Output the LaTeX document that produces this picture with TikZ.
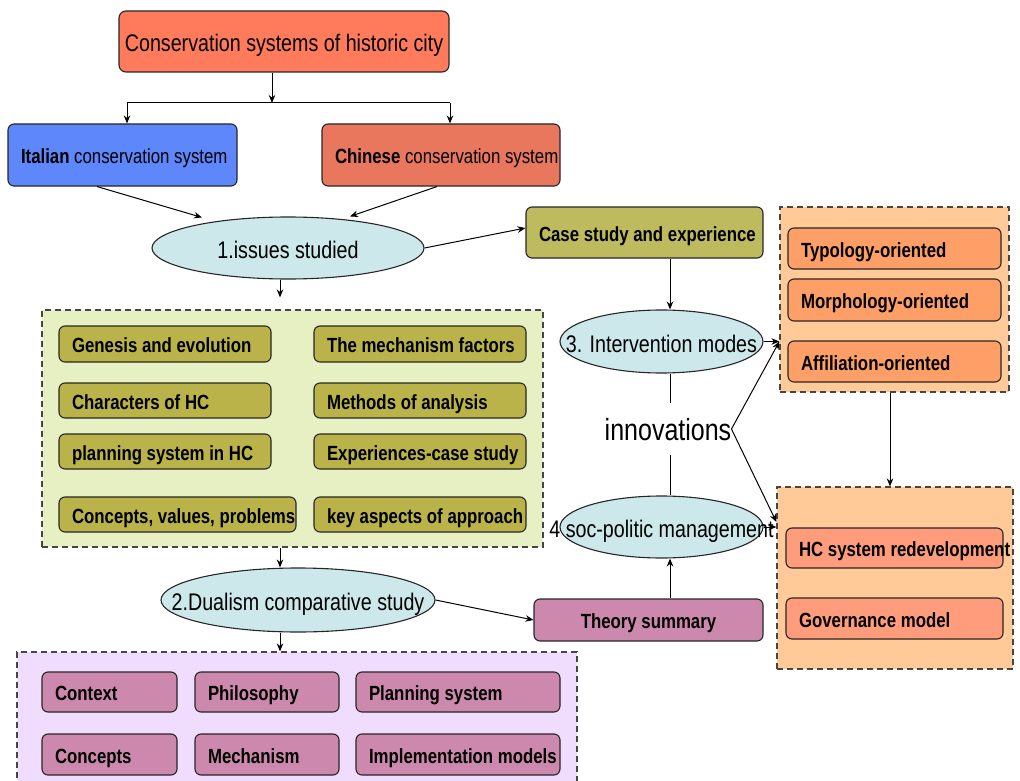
\documentclass[tikz,border=0pt]{standalone}
\usepackage{fontspec}
\setmainfont{Liberation Sans}[FakeStretch=0.82]
\usetikzlibrary{shapes.geometric,arrows.meta,calc}

\definecolor{topc}{HTML}{FF7B5B}
\definecolor{itc}{HTML}{5D87FA}
\definecolor{chc}{HTML}{E8775E}
\definecolor{elc}{HTML}{CDE8EB}
\definecolor{olc}{HTML}{BEBA5E}
\definecolor{oli}{HTML}{B9B34A}
\definecolor{grc}{HTML}{E7F0C2}
\definecolor{orc}{HTML}{FFC998}
\definecolor{ori}{HTML}{FF9F68}
\definecolor{oritwo}{HTML}{FF9C7C}
\definecolor{puc}{HTML}{F0DCFC}
\definecolor{pui}{HTML}{CC89AD}
\definecolor{edgec}{HTML}{262626}
\definecolor{dashc}{HTML}{454545}

\newcommand\lft[2]{\makebox[#1pt][l]{#2}}
\newcommand\ctr[1]{\makebox[0pt]{#1}}
\newcommand\fa{\fontsize{20.5pt}{24pt}\selectfont}
\newcommand\fb{\fontsize{24pt}{28pt}\selectfont}
\newcommand\fc{\fontsize{30.5pt}{34pt}\selectfont}

\begin{document}
\begin{tikzpicture}[x=1pt,y=-1pt,
  box/.style={draw=edgec, line width=1.1pt, rounded corners=6pt, inner xsep=13pt, inner ysep=0pt,
    font=\fa\bfseries, text height=17pt, text depth=0pt},
  cbox/.style={box, inner xsep=0pt},
  hbox/.style={draw=edgec, line width=1.1pt, rounded corners=7pt, inner sep=0pt,
    font=\fb, text height=20.5pt, text depth=0pt},
  cont/.style={draw=dashc, line width=1.2pt, dash pattern=on 6pt off 4pt, inner sep=0pt},
  ell/.style={ellipse, draw=edgec, line width=1.1pt, fill=elc, inner sep=0pt,
    font=\fb, text height=21pt, text depth=0pt},
  arr/.style={-{Stealth[length=8pt,width=6.5pt]}, line width=1pt, draw=black},
  ln/.style={line width=1pt, draw=black}
]
\useasboundingbox (0,0) rectangle (1020,781);

% containers
\node[cont, fill=grc, minimum width=501, minimum height=237] (grn) at (292.5,428.5) {};
\node[cont, fill=orc, minimum width=229, minimum height=185] (ob1) at (894.5,299.5) {};
\node[cont, fill=orc, minimum width=236, minimum height=182] (ob2) at (895,578) {};
\node[cont, fill=puc, minimum width=560, minimum height=140] (pur) at (297,722) {};

% top level
\node[hbox, fill=topc, minimum width=330, minimum height=61] (top) at (284,41.5) {Conservation systems of historic city};
\node[box, fill=itc, font=\fa, minimum height=62] (ital) at (122.5,155) {\lft{203}{\textbf{Italian} conservation system}};
\node[box, fill=chc, font=\fa, minimum height=62] (chin) at (441,155) {\lft{212}{\textbf{Chinese} conservation system}};

% ellipses
\node[ell, minimum width=272, minimum height=62] (e1) at (288,248) {\ctr{1.issues studied}};
\node[ell, minimum width=203, minimum height=63] (e3) at (661.5,341.5) {\ctr{3. Intervention modes}};
\node[ell, minimum width=203, minimum height=62] (e4) at (661.5,527) {\ctr{4 soc-politic management}};
\node[ell, minimum width=274, minimum height=64] (e2) at (298,600) {\ctr{2.Dualism comparative study}};

\node[font=\fc, inner sep=0pt, text height=22pt, text depth=0pt, minimum height=52] (inn) at (668,429) {innovations};

% case / theory
\node[box, fill=olc, minimum height=51] (case) at (644.5,232.5) {\lft{211}{Case study and experience}};
\node[cbox, fill=pui, minimum width=229, minimum height=42] (theory) at (648.5,620) {Theory summary};

% green inner boxes
\node[box, fill=oli, minimum height=36] (g1) at (165,344) {\lft{186}{Genesis and evolution}};
\node[box, fill=oli, minimum height=36] (g2) at (420,344) {\lft{186}{The mechanism factors}};
\node[box, fill=oli, minimum height=35] (g3) at (165,400.5) {\lft{186}{Characters of HC}};
\node[box, fill=oli, minimum height=35] (g4) at (420,400.5) {\lft{186}{Methods of analysis}};
\node[box, fill=oli, minimum height=35] (g5) at (165,451.5) {\lft{186}{planning system in HC}};
\node[box, fill=oli, minimum height=35] (g6) at (420,451.5) {\lft{186}{Experiences-case study}};
\node[box, fill=oli, minimum height=35] (g7) at (177.5,514.5) {\lft{211}{Concepts, values, problems}};
\node[box, fill=oli, minimum height=35] (g8) at (420,514.5) {\lft{186}{key aspects of approach}};

% orange inner boxes
\node[box, fill=ori, minimum height=41] (o1) at (894.5,248.5) {\lft{187}{Typology-oriented}};
\node[box, fill=ori, minimum height=42] (o2) at (894.5,300) {\lft{187}{Morphology-oriented}};
\node[box, fill=ori, minimum height=41] (o3) at (894.5,361.5) {\lft{187}{Affiliation-oriented}};
\node[box, fill=oritwo, minimum height=40] (o4) at (894.5,548) {\lft{191}{HC system redevelopment}};
\node[box, fill=oritwo, minimum height=41] (o5) at (894.5,618.5) {\lft{191}{Governance model}};

% purple inner boxes
\node[box, fill=pui, minimum height=40] (p1) at (109.5,692) {\lft{109}{Context}};
\node[box, fill=pui, minimum height=40] (p2) at (267,692) {\lft{118}{Philosophy}};
\node[box, fill=pui, minimum height=40] (p3) at (458,692) {\lft{178}{Planning system}};
\node[box, fill=pui, minimum height=41] (p4) at (109.5,754.5) {\lft{109}{Concepts}};
\node[box, fill=pui, minimum height=41] (p5) at (267,754.5) {\lft{118}{Mechanism}};
\node[box, fill=pui, minimum height=41] (p6) at (458,754.5) {\lft{178}{Implementation models}};

% connectors
\coordinate (j) at (272,103);
\coordinate (jl) at (127,103);
\coordinate (jr) at (450,103);
\coordinate (cx) at (280,0);
\draw[arr] (top.south -| j) -- (j);
\draw[ln] (jl) -- (jr);
\draw[arr] (jl) -- (jl |- ital.north);
\draw[arr] (jr) -- (jr |- chin.north);
\draw[arr] ([xshift=-25.5pt]ital.south) -- ([xshift=-86pt,yshift=-1pt]e1.north);
\draw[arr] ([xshift=-4pt]chin.south) -- ([xshift=62pt]e1.north);
\draw[arr] (e1.east) -- ([yshift=4.5pt]case.west);
\draw[arr] ([xshift=25.5pt]case.south) -- ([xshift=8.5pt]e3.north);
\draw[ln] ([xshift=8.5pt]e3.south) -- ([xshift=2pt]inn.north);
\draw[ln] ([xshift=2pt]inn.south) -- ([xshift=8.5pt]e4.north);
\draw[arr] ([xshift=21.5pt]theory.north) -- ([xshift=8.5pt]e4.south);
\draw[arr] (e3.east) -- (e3.east -| ob1.west);
\draw[arr] (e4.east) -- (e4.east -| ob2.west);
\draw[arr] (inn.east) -- (e3.east -| ob1.west);
\draw[arr] (inn.east) -- ($(e4.east -| ob2.west)+(0,-5)$);
\draw[arr] ([xshift=-4.5pt]ob1.south) -- ([xshift=-5pt]ob2.north);
\draw[arr] (e1.south -| cx) -- ($(grn.north -| cx)+(0,-12)$);
\draw[arr] (grn.south -| cx) -- (e2.north -| cx);
\draw[arr] (e2.south -| cx) -- (pur.north -| cx);
\draw[arr] (e2.east) -- (theory.west);
\end{tikzpicture}
\end{document}
